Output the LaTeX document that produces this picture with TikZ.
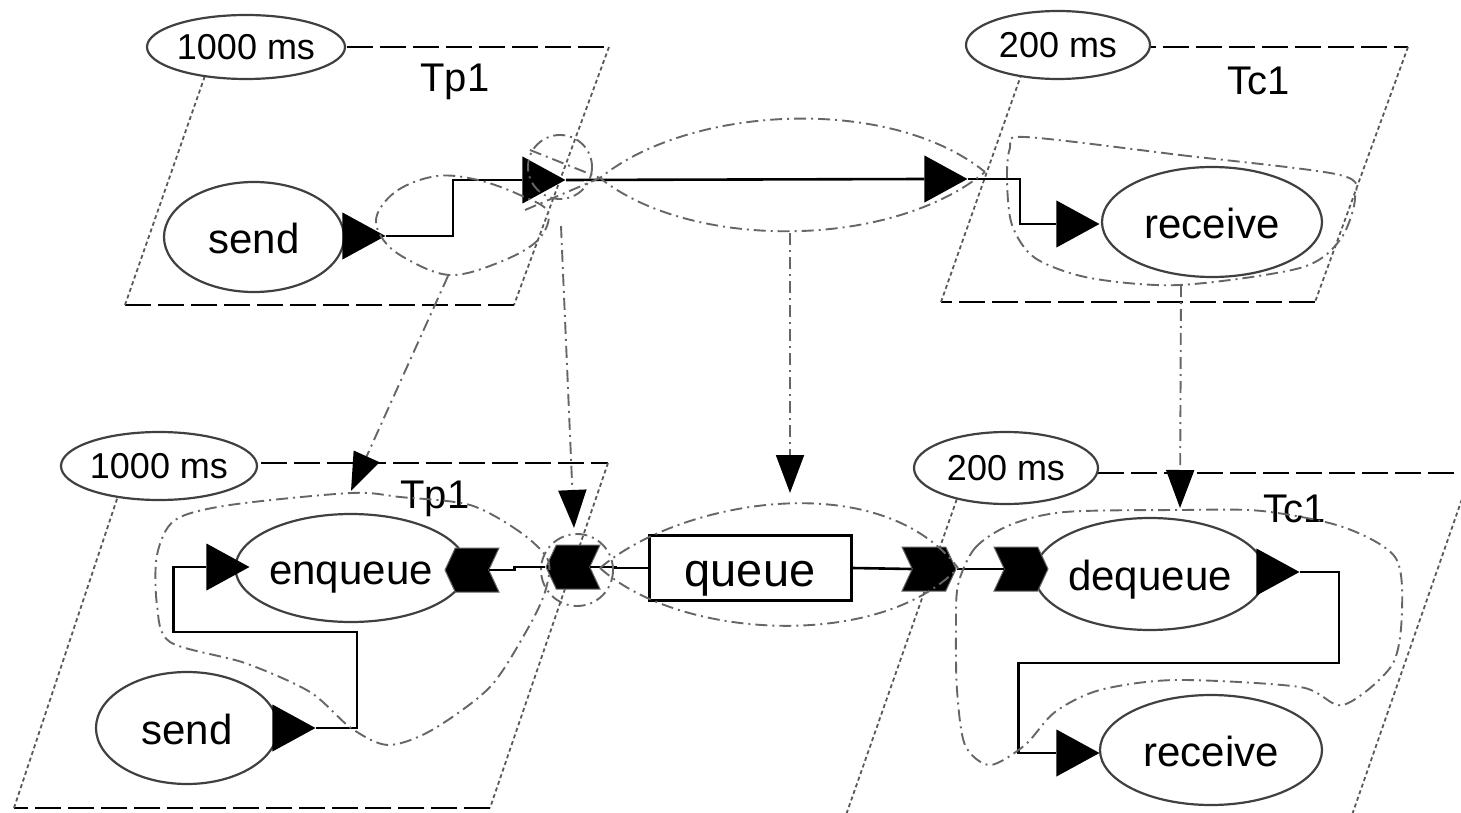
\documentclass[tikz,border=0pt]{standalone}
\usepackage{fontspec}
\setmainfont{Liberation Sans}
\usetikzlibrary{shapes.geometric,shapes.symbols,arrows.meta,calc}
\begin{document}
\begin{tikzpicture}[x=1pt,y=-1pt,
  ell/.style={ellipse,draw=black!75,line width=2.2pt,fill=white,inner sep=0pt},
  ms/.style={ell,font=\fontsize{36}{40}\selectfont},
  act/.style={ell,font=\fontsize{42}{46}\selectfont,text height=32pt,text depth=0pt},
  tri/.style={isosceles triangle,isosceles triangle stretches,fill=black,inner sep=0pt,minimum width=47pt,minimum height=43pt},
  chevL/.style={signal,signal to=west,signal from=east,signal pointer angle=130,fill=black,draw=black!60,line width=1pt,inner sep=0pt,minimum width=54pt,minimum height=44pt},
  chevR/.style={signal,signal to=east,signal from=west,signal pointer angle=130,fill=black,draw=black!60,line width=1pt,inner sep=0pt,minimum width=54pt,minimum height=44pt},
  frameH/.style={line width=2.4pt,dash pattern=on 26pt off 7pt},
  frameS/.style={black!65,line width=1.8pt,dash pattern=on 4pt off 3pt},
  dd/.style={black!60,line width=1.9pt,dash pattern=on 12pt off 5pt on 2pt off 5pt},
  ddarr/.style={dd,-{Triangle[length=38pt,width=28pt,color=black]}},
  conn/.style={line width=2.6pt},
  lbl/.style={font=\fontsize{40}{44}\selectfont,inner sep=0pt}
]
\useasboundingbox (0,0) rectangle (1461,813);

% frames
\draw[frameH] (215,47) -- (609,47);
\draw[frameS] (609,47) -- (514,305);
\draw[frameH] (514,305) -- (125,305);
\draw[frameS] (125,305) -- (215,47);

\draw[frameH] (1031,47) -- (1408,47);
\draw[frameS] (1408,47) -- (1315,302);
\draw[frameH] (1315,302) -- (941,302);
\draw[frameS] (941,302) -- (1031,47);

\draw[frameH] (129,463) -- (608,463);
\draw[frameS] (608,463) -- (490,808);
\draw[frameH] (490,808) -- (14,808);
\draw[frameS] (14,808) -- (129,463);

\draw[frameH] (966,473) -- (1480,473);
\draw[frameS] (1471,473) -- (1352,815);
\draw[frameS] (966,473) -- (846,815);

% nodes
\node[ms,minimum width=198pt,minimum height=64pt] (msTL) at (246,47) {1000 ms};
\node[ms,minimum width=184pt,minimum height=68pt] (msTR) at (1058,45) {200 ms};
\node[ms,minimum width=196pt,minimum height=68pt] (msBL) at (159,466) {1000 ms};
\node[ms,minimum width=184pt,minimum height=72pt] (msBR) at (1006,468) {200 ms};

\node[lbl] (tp1a) at (455,82) {Tp1};
\node[lbl] (tc1a) at (1259,81) {Tc1};
\node[lbl] (tp1b) at (435,499) {Tp1};
\node[lbl] (tc1b) at (1295,509) {Tc1};

\node[act,minimum width=180pt,minimum height=110pt] (sendA) at (254,237) {send};
\node[act,minimum width=220pt,minimum height=110pt] (recvA) at (1212,222) {receive};
\node[act,minimum width=212pt,minimum height=108pt] (enq) at (351,568) {enqueue};
\node[act,minimum width=182pt,minimum height=112pt] (sendB) at (187,728) {send};
\node[act,minimum width=214pt,minimum height=112pt] (deq) at (1150,574) {dequeue};
\node[act,minimum width=222pt,minimum height=110pt] (recvB) at (1211,750) {receive};
\node[draw,line width=3pt,minimum width=202pt,minimum height=65pt,inner sep=0pt,text height=36pt,text depth=0pt,font=\fontsize{47}{50}\selectfont] (queue) at (750,568) {queue};

% ports
\node[tri,anchor=apex] (tA) at (386,236) {};
\node[tri,anchor=apex] (tB) at (566,180) {};
\node[tri,anchor=apex] (tC) at (968,179) {};
\node[tri,anchor=apex] (tD) at (1100,224) {};
\node[tri,anchor=apex] (tF) at (250,567) {};
\node[tri,anchor=apex] (tE) at (316,728) {};
\node[tri,anchor=apex] (tG) at (1300,572) {};
\node[tri,anchor=apex] (tH) at (1100,753) {};

\node[chevL] (cL1) at (472,570) {};
\node[chevL] (cL2) at (573,567) {};
\node[chevR] (cR1) at (929,569) {};
\node[chevR] (cR2) at (1021,569) {};

% solid connectors
\draw[conn] (tA.apex) -- ++(67,0) |- (tB.west);
\draw[conn] (tB.apex) -- (tC.west);
\draw[conn] (tC.apex) -- ++(52,0) |- (tD.west);
\draw[conn] (tE.apex) -- ++(41,0) -- ++(0,-96) -| ([xshift=-33pt]tF.west) -- (tF.west);
\draw[conn] (cL1.east) -- ++(25,0) -- ++(0,-3) -- (cL2.west);
\draw[conn] (cL2.east) -- ++(25,0) |- (queue.west);
\draw[conn] (queue.east) -- (cR1.west);
\draw[conn] (cR1.east) -- (cR2.west);
\draw[conn] (tG.apex) -- ++(39,0) -- ++(0,91) -| ([xshift=-38pt]tH.west) -- (tH.west);

% dash-dot groupings
\draw[dd] plot[smooth cycle,tension=0.6] coordinates {(377,215) (398,190) (437,176) (478,180) (520,195) (548,212) (538,240) (500,262) (450,275) (405,258) (382,238)};
\draw[dd] (560,167) circle[radius=32];
\draw[dd] (525,210) -- (600,178) .. controls (690,105) and (890,95) .. (985,172);
\draw[dd] (530,150) -- (600,178) .. controls (690,250) and (890,250) .. (985,172);
\draw[dd] plot[smooth cycle,tension=0.5] coordinates {(1025,137) (1180,155) (1340,175) (1355,198) (1340,240) (1300,268) (1180,285) (1090,278) (1035,258) (1012,225) (1007,180) (1010,148)};

\draw[dd] plot[smooth cycle,tension=0.5] coordinates {(548,560) (520,532) (470,505) (400,497) (351,493) (230,505) (175,520) (157,555) (157,605) (170,642) (245,663) (310,692) (351,728) (388,745) (432,730) (490,687) (527,630) (545,592)};
\draw[dd] (577,570) circle[radius=36];
\draw[dd] (600,568) .. controls (680,500) and (880,465) .. (958,568);
\draw[dd] (600,568) .. controls (680,640) and (880,650) .. (958,568);
\draw[dd] plot[smooth cycle,tension=0.5] coordinates {(958,585) (975,548) (1010,525) (1065,512) (1180,510) (1262,511) (1343,527) (1395,557) (1402,610) (1392,665) (1343,705) (1300,687) (1176,680) (1100,690) (1055,712) (1025,745) (990,765) (965,745) (957,690) (956,630)};

% dash-dot arrows
\coordinate (a1s) at (448,276); \coordinate (a1e) at (351,491);
\coordinate (a2s) at (561,226); \coordinate (a2e) at (574,528);
\coordinate (a3s) at (790,233); \coordinate (a3e) at (790,493);
\coordinate (a4s) at (1181,285); \coordinate (a4e) at (1180,508);
\draw[ddarr] (a1s) -- (a1e);
\draw[ddarr] (a2s) -- (a2e);
\draw[ddarr] (a3s) -- (a3e);
\draw[ddarr] (a4s) -- (a4e);
\end{tikzpicture}
\end{document}
